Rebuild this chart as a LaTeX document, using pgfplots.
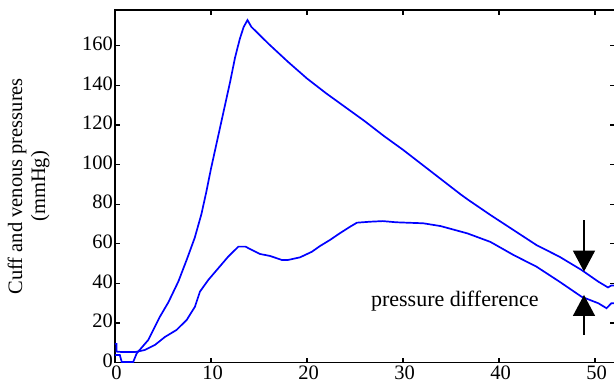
\documentclass[border=0pt]{standalone}
\usepackage{fontspec}
\setmainfont{Liberation Serif}
\usepackage{pgfplots}
\pgfplotsset{compat=1.18}
\usetikzlibrary{arrows.meta}
\begin{document}
\begin{tikzpicture}
\begin{axis}[
  scale only axis, width=500pt, height=352.7pt,
  xmin=0, xmax=52.08, ymin=0, ymax=178.1,
  axis line style={line width=1.4pt},
  tick align=inside, major tick length=5pt,
  every tick/.style={line width=1.2pt, black},
  xtick={0,10,20,30,40,50}, xticklabels={\textrm{0},\textrm{10},\textrm{20},\textrm{30},\textrm{40},\textrm{50}},
  ytick={0,20,40,60,80,100,120,140,160},
  yticklabels={\textrm{0},\textrm{20},\textrm{40},\textrm{60},\textrm{80},\textrm{100},\textrm{120},\textrm{140},\textrm{160}},
  ticklabel style={font=\rmfamily\fontsize{20.5}{24}\selectfont},
  xticklabel style={inner sep=1pt, yshift=-2pt, xshift=1.5pt},
  yticklabel style={inner sep=2pt, yshift=2pt},
  ylabel={Cuff and venous pressures\\(mmHg)},
  ylabel style={at={(axis description cs:-0.124,0.5)}, anchor=south, align=center, font=\rmfamily\fontsize{20.5}{23}\selectfont},
]
\addplot[blue, line width=1.7pt] coordinates {
(0,3.9) (0.5,3.9) (0.7,0.4) (1.9,0.4) (2.26,4.7) (3.47,11.5) (4.7,23.4) (5.56,30.5)
(6.6,41) (7.47,52) (8.3,63) (9.0,75) (9.5,86) (10.0,98) (10.5,109) (11.0,120)
(11.5,131) (12.0,142) (12.5,154) (13.0,163.5) (13.4,169.5) (13.8,173)
(14.2,169.6) (16,161) (18,152) (20,143.5) (22,136) (24,129) (26,122) (28,114.5)
(30,107.5) (32,100) (34,92.5) (36,85) (36.8,82.2) (39.1,74.6) (41.5,67) (43.9,59.4)
(46.3,53.5) (48.6,46.8) (50.35,40.9) (51.35,38) (51.7,39) (52.1,39)
};
\addplot[blue, line width=1.7pt] coordinates {
(0,9.5) (0.15,9.5) (0.15,5.6) (0.7,5.4) (2.1,5.4) (3.1,6.4) (4.17,9) (5.2,13)
(6.4,16.5) (7.47,21.6) (8.33,28.3) (8.85,35.9) (9.72,41.8) (10.76,47.7) (11.8,53.6)
(12.85,58.6) (13.6,58.6) (14.06,57.4) (15.1,54.9) (16.15,53.9) (17.36,51.9)
(18.05,51.9) (19.27,53.2) (20.5,56) (21.35,58.9) (22.4,62) (23.4,65.3) (24.5,68.7)
(25.2,70.7) (26.6,71.2) (27.9,71.5) (29.3,70.9) (30.4,70.7) (32.1,70.4) (33.9,69)
(36.7,65.3) (39.1,61) (41.5,54.4) (43.9,48.5) (46.3,40.9) (48.6,33.3) (50.35,30)
(51.2,27.5) (51.7,30) (52.1,30)
};
\draw[line width=1.5pt, -{Triangle[width=22pt,length=21pt]}] (axis cs:48.85,72) -- (axis cs:48.85,46);
\draw[line width=1.5pt, -{Triangle[width=22pt,length=21pt]}] (axis cs:48.85,14) -- (axis cs:48.85,34.2);
\node[anchor=base, font=\rmfamily\fontsize{22}{26}\selectfont] at (axis cs:35.4,28.3) {pressure difference};
\end{axis}
\pgfresetboundingbox
\path[use as bounding box] (-115pt,-24.3pt) rectangle (499pt,362.7pt);
\end{tikzpicture}
\end{document}
